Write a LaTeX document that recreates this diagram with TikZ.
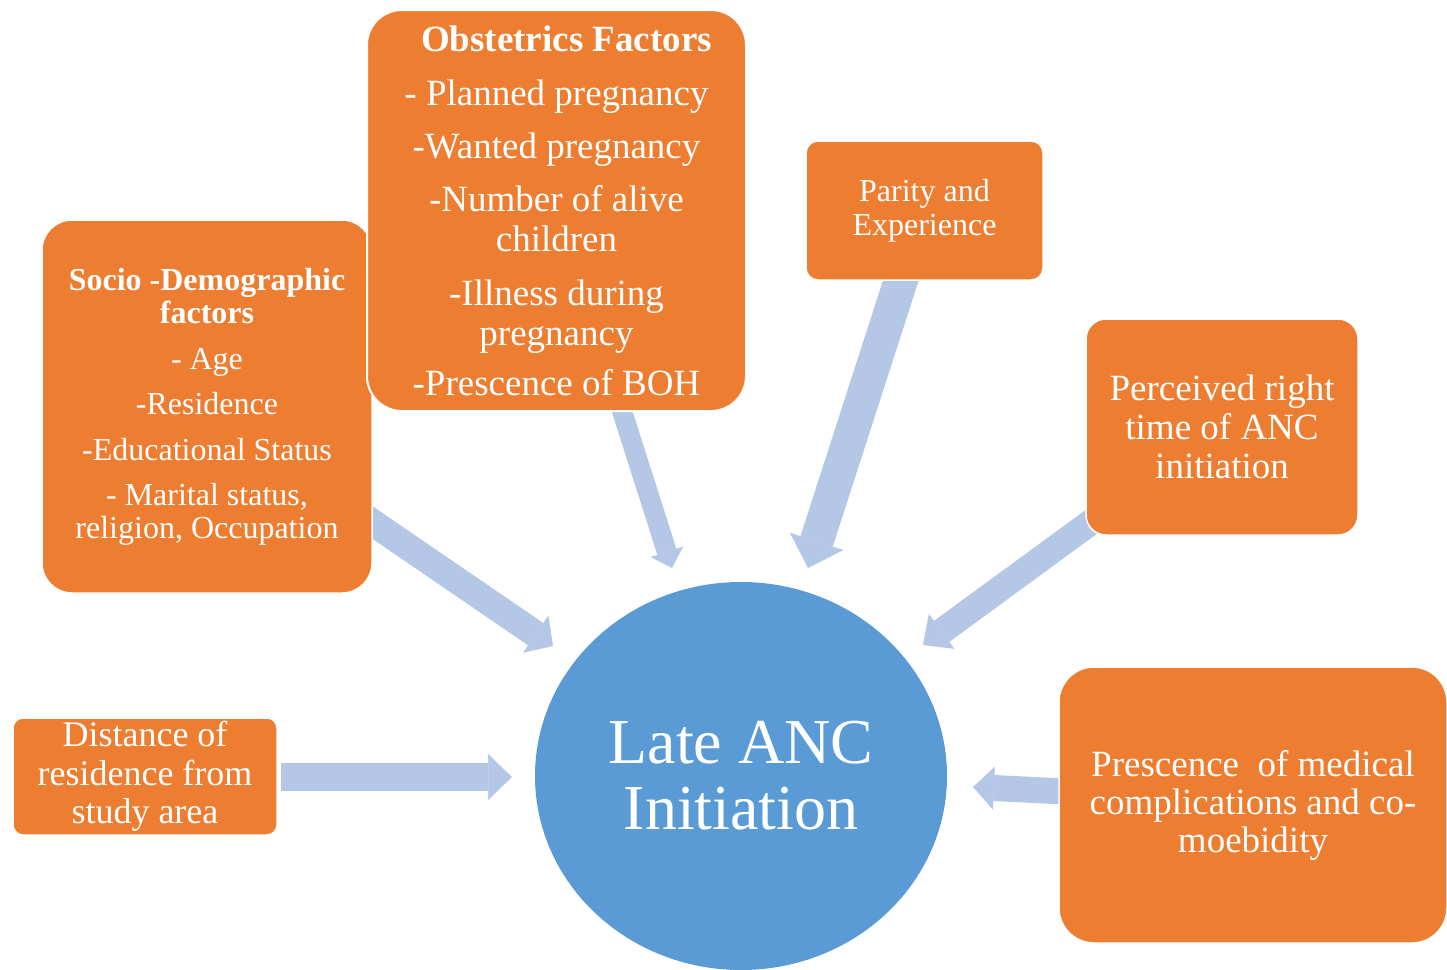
\documentclass[tikz,border=0pt]{standalone}
\usepackage{fontspec}
\setmainfont{Liberation Serif}
\usetikzlibrary{arrows.meta,shapes.geometric}
\definecolor{boxorange}{HTML}{ED7D31}
\definecolor{circblue}{HTML}{5B9BD5}
\definecolor{arrblue}{HTML}{B4C7E7}
\pgfdeclarelayer{bg}
\pgfsetlayers{bg,main}
\begin{document}
\begin{tikzpicture}[x=1pt,y=-1pt,
  box/.style={fill=boxorange, draw=white, line width=1.5pt, text=white, align=center, inner sep=0pt},
  blockarrow/.style={draw=arrblue, line width=#1},
]
\useasboundingbox (0,0) rectangle (1447,969);
\clip (0,0) rectangle (1447,969);

% factor boxes
\node[box, rounded corners=30pt, minimum width=330pt, minimum height=373pt,
      font=\fontsize{32}{33}\selectfont] (socio) at (207,406.5)
  {\textbf{Socio -Demographic}\\\textbf{factors}\\[13pt]
   - Age\\[12pt]-Residence\\[13pt]-Educational Status\\[12pt]
   - Marital status,\\religion, Occupation};

\node[box, rounded corners=35pt, minimum width=379pt, minimum height=401pt, line width=2pt,
      font=\fontsize{37}{40}\selectfont] (obst) at (556.5,210.5)
  {\hspace*{20pt}\textbf{Obstetrics Factors}\\[14pt]
   - Planned pregnancy\\[13pt]-Wanted pregnancy\\[13pt]
   -Number of alive\\children\\[14pt]
   -Illness during\\pregnancy\\[10pt]-Prescence of BOH};

\node[box, rounded corners=12pt, minimum width=237pt, minimum height=139pt,
      font=\fontsize{32}{34}\selectfont] (parity) at (924.5,210.5)
  {Parity and\\Experience};

\node[box, rounded corners=20pt, minimum width=272pt, minimum height=216pt,
      font=\fontsize{37}{39}\selectfont] (perc) at (1222,427)
  {Perceived right\\time of ANC\\initiation};

\node[box, rounded corners=10pt, minimum width=264pt, minimum height=117pt,
      font=\fontsize{36}{38.5}\selectfont] (dist) at (145,776.5)
  {Distance of\\residence from\\study area};

\node[box, rounded corners=35pt, minimum width=388pt, minimum height=276pt,
      font=\fontsize{37}{38}\selectfont] (med) at (1253,805)
  {Prescence\ \ of medical\\complications and co-\\moebidity};

% central outcome
\node[ellipse, fill=circblue, minimum width=412pt, minimum height=388pt, inner sep=0pt,
      text=white, align=center, font=\fontsize{64}{66}\selectfont] (anc) at (741,776)
  {Late ANC\\Initiation};

% block arrows (behind the boxes)
\begin{pgfonlayer}{bg}
\coordinate (a1s) at (360,514);    \coordinate (a1e) at (553,646);
\coordinate (a2s) at (618.5,400);  \coordinate (a2e) at (672,568);
\coordinate (a3s) at (902.6,275);  \coordinate (a3e) at (808,568);
\coordinate (a4s) at (1100,515.5); \coordinate (a4e) at (923,645);
\coordinate (a5s) at (281,777);    \coordinate (a5e) at (512,777);
\coordinate (a6s) at (1065,791.5); \coordinate (a6e) at (973,787);
\draw[blockarrow=27pt, -{Triangle[length=21pt,width=45pt,line width=0.5pt]}] (a1s) -- (a1e);
\draw[blockarrow=20pt, -{Triangle[length=17pt,width=34pt,line width=0.5pt]}] (a2s) -- (a2e);
\draw[blockarrow=34pt, -{Triangle[length=28pt,width=56pt,line width=0.5pt]}] (a3s) -- (a3e);
\draw[blockarrow=26pt, -{Triangle[length=23pt,width=43pt,line width=0.5pt]}] (a4s) -- (a4e);
\draw[blockarrow=28pt, -{Triangle[length=24pt,width=46pt,line width=0.5pt]}] (a5s) -- (a5e);
\draw[blockarrow=26pt, -{Triangle[length=21pt,width=43pt,line width=0.5pt]}] (a6s) -- (a6e);
\end{pgfonlayer}
\end{tikzpicture}
\end{document}
